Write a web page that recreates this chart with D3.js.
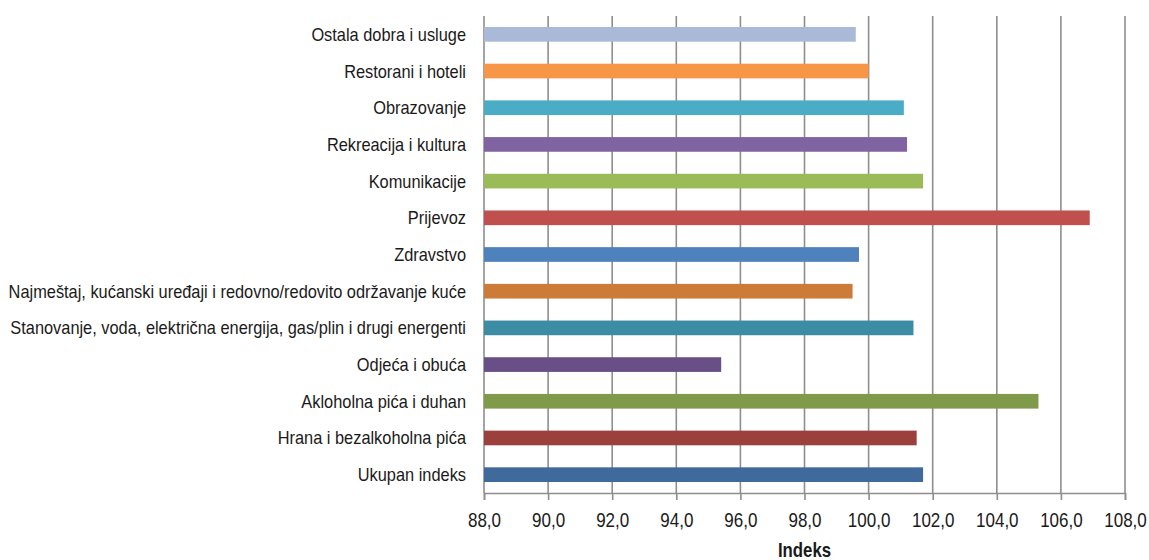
<!DOCTYPE html>
<html>
<head>
<meta charset="utf-8">
<script src="https://cdn.jsdelivr.net/npm/d3@7"></script>
<style>
  body { margin: 0; background: #fff; }
  #chart svg { display: block; }
  .cat text { font-family: "Liberation Sans", Arial, sans-serif; font-size: 18px; fill: #1a1a1a; }
  .xaxis text { font-family: "Liberation Sans", Arial, sans-serif; font-size: 21px; fill: #1a1a1a; }
</style>
</head>
<body>
<div id="chart"></div>
<script>
// categories top to bottom
const categories = [
    "Ostala dobra i usluge",
    "Restorani i hoteli",
    "Obrazovanje",
    "Rekreacija i kultura",
    "Komunikacije",
    "Prijevoz",
    "Zdravstvo",
    "Najmeštaj, kućanski uređaji i redovno/redovito održavanje kuće",
    "Stanovanje, voda, električna energija, gas/plin i drugi energenti",
    "Odjeća i obuća",
    "Akloholna pića i duhan",
    "Hrana i bezalkoholna pića",
    "Ukupan indeks"
];
const values = [99.6, 100.0, 101.1, 101.2, 101.7, 106.9, 99.7, 99.5, 101.4, 95.4, 105.3, 101.5, 101.7];
const colors = ["#a9b9d7", "#f79646", "#4bacc6", "#8064a2", "#9bbb59", "#c0504d", "#4f81bd",
                "#cc7b38", "#3c8da3", "#684f86", "#7f9a48", "#9c403d", "#40699c"];
const xTicks = [88, 90, 92, 94, 96, 98, 100, 102, 104, 106, 108];
const xTitle = "Indeks";

const width = 1149, height = 560;
const margin = { top: 16, right: 24, bottom: 67, left: 484 };

const svg = d3.select("#chart")
    .append("svg")
    .attr("width", width)
    .attr("height", height);

const x = d3.scaleLinear()
    .domain([88, 108])
    .range([margin.left, width - margin.right]);

const y = d3.scaleBand()
    .domain(categories)
    .range([margin.top, height - margin.bottom])
    .paddingInner(0.6)
    .paddingOuter(0.3);

// vertical gridlines
svg.append("g")
    .selectAll("line")
    .data(xTicks)
    .enter()
    .append("line")
    .attr("x1", d => x(d))
    .attr("x2", d => x(d))
    .attr("y1", margin.top)
    .attr("y2", height - margin.bottom)
    .attr("stroke", "#8e8e8e")
    .attr("stroke-width", 1.6);

// bars
svg.append("g")
    .selectAll("rect")
    .data(values)
    .enter()
    .append("rect")
    .attr("x", x(88))
    .attr("y", (d, i) => y(categories[i]))
    .attr("width", d => x(d) - x(88))
    .attr("height", y.bandwidth())
    .attr("fill", (d, i) => colors[i]);

// category labels (condensed a little, like the original narrow font)
const cat = svg.append("g").attr("class", "cat");
cat.selectAll("text")
    .data(categories)
    .enter()
    .append("text")
    .attr("transform", d => `translate(${margin.left - 18},${y(d) + y.bandwidth() / 2}) scale(0.91,1)`)
    .attr("dy", "0.36em")
    .attr("text-anchor", "end")
    .text(d => d);

// x axis
const xAxis = svg.append("g")
    .attr("class", "xaxis")
    .attr("transform", `translate(0,${height - margin.bottom})`)
    .call(d3.axisBottom(x)
        .tickValues(xTicks)
        .tickSize(7)
        .tickPadding(12)
        .tickFormat(d => d3.format(".1f")(d).replace(".", ",")));

xAxis.select(".domain")
    .attr("stroke", "#8e8e8e")
    .attr("stroke-width", 1.6);
xAxis.selectAll(".tick line")
    .attr("stroke", "#8e8e8e")
    .attr("stroke-width", 1.6);
xAxis.selectAll("text")
    .attr("fill", "#1a1a1a")
    .attr("transform", "scale(0.81,1)");

// axis title
svg.append("text")
    .attr("transform", `translate(${x(98)},557) scale(0.84,1)`)
    .attr("text-anchor", "middle")
    .style("font-family", '"Liberation Sans", Arial, sans-serif')
    .style("font-size", "20px")
    .style("font-weight", "bold")
    .style("fill", "#1a1a1a")
    .text(xTitle);
</script>
</body>
</html>
